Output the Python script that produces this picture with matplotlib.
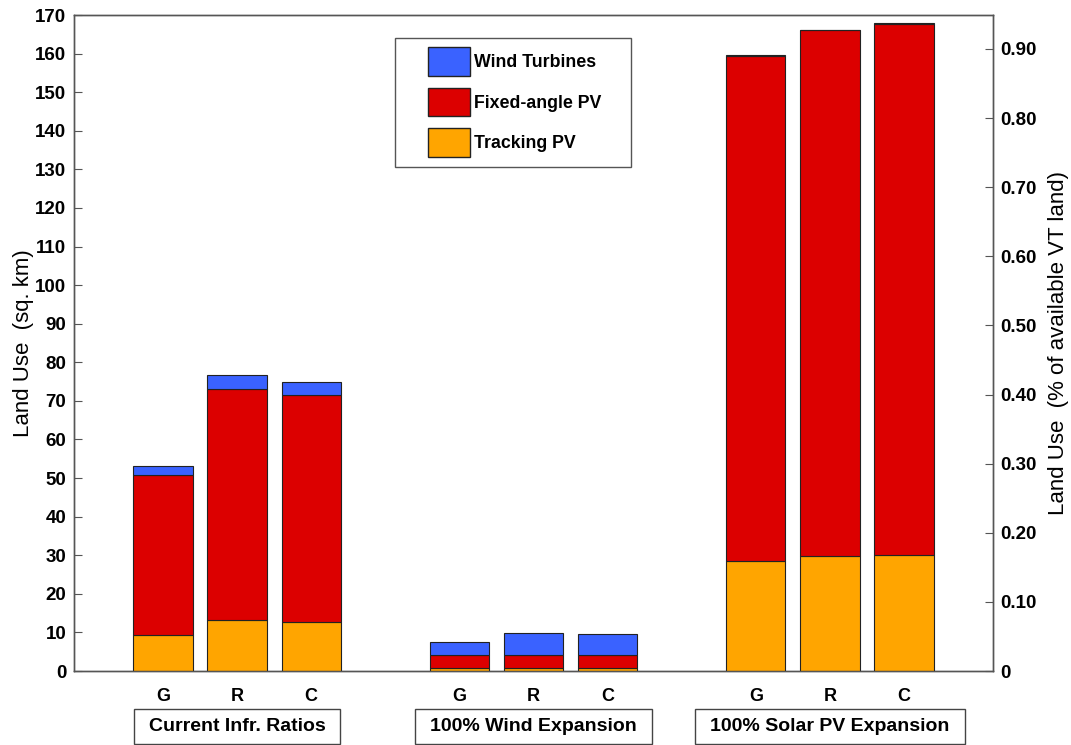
import matplotlib
matplotlib.use("Agg")
import matplotlib.pyplot as plt
from matplotlib.patches import Patch, Rectangle
import numpy as np

# ---- data ----
scenarios = ["Current Infr. Ratios", "100% Wind Expansion", "100% Solar PV Expansion"]
bar_labels = ["G", "R", "C", "G", "R", "C", "G", "R", "C"]
tracking_pv = [9.2, 13.3, 12.8, 0.9, 0.9, 0.9, 28.6, 29.7, 30.0]
fixed_pv = [41.6, 59.8, 58.7, 3.3, 3.3, 3.3, 130.9, 136.3, 137.7]
wind = [2.3, 3.5, 3.3, 3.2, 5.6, 5.3, 0.2, 0.2, 0.2]
pct_per_sqkm = 0.90 / 161.2   # right-axis conversion (% of available VT land per sq. km)
left_ticks = list(range(0, 171, 10))
right_ticks = [0, 0.10, 0.20, 0.30, 0.40, 0.50, 0.60, 0.70, 0.80, 0.90]
right_ticklabels = ["0", "0.10", "0.20", "0.30", "0.40", "0.50", "0.60", "0.70", "0.80", "0.90"]

# ---- style ----
c_wind = "#3a62ff"
c_fixed = "#dc0000"
c_track = "#ffa500"
edge = "#222222"
spine_c = "#555555"
font_main = ["Liberation Sans", "DejaVu Sans"]

plt.rcParams["font.family"] = font_main

W, H = 1071, 745
fig = plt.figure(figsize=(W / 100, H / 100), dpi=100)
ax = fig.add_axes([74 / W, 74 / H, (993 - 74) / W, (671 - 15) / H])

x = np.array([1, 2, 3, 5, 6, 7, 9, 10, 11], dtype=float)
tp = np.array(tracking_pv)
fp = np.array(fixed_pv)
wd = np.array(wind)
w = 0.8
ax.bar(x, tp, w, color=c_track, edgecolor=edge, linewidth=0.8, zorder=3)
ax.bar(x, fp, w, bottom=tp, color=c_fixed, edgecolor=edge, linewidth=0.8, zorder=3)
ax.bar(x, wd, w, bottom=tp + fp, color=c_wind, edgecolor=edge, linewidth=0.8, zorder=3)

ax.set_xlim(-0.2, 12.2)
ax.set_ylim(0, 170)
ax.set_yticks(left_ticks)
ax.set_yticklabels([str(t) for t in left_ticks], fontweight="bold", fontsize=13.5)
ax.set_xticks(x)
ax.set_xticklabels(bar_labels, fontweight="bold", fontsize=13)
ax.tick_params(axis="x", direction="in", length=5, pad=12, color=spine_c)
ax.tick_params(axis="y", direction="in", length=6, pad=5.5, color=spine_c)
for s in ax.spines.values():
    s.set_color(spine_c)
    s.set_linewidth(1.0)
ax.set_ylabel("Land Use  (sq. km)", fontsize=16, labelpad=1)

ax2 = ax.twinx()
ax2.set_ylim(0, 170 * pct_per_sqkm)
ax2.set_yticks(right_ticks)
ax2.set_yticklabels(right_ticklabels, fontweight="bold", fontsize=13.5)
ax2.tick_params(axis="y", direction="in", length=6, pad=5.5, color=spine_c)
for s in ax2.spines.values():
    s.set_color(spine_c)
    s.set_linewidth(1.0)
ax2.set_ylabel("Land Use  (% of available VT land)", fontsize=16, labelpad=8)

# group labels in boxes
trans = matplotlib.transforms.blended_transform_factory(ax.transData, ax.transAxes)
texts = []
for i, name in enumerate(scenarios):
    cx = x[3 * i + 1]
    t = ax.text(cx, -0.085, name, transform=trans, ha="center", va="center",
                fontsize=14, fontweight="bold", clip_on=False)
    texts.append(t)

fig.canvas.draw()
r = fig.canvas.get_renderer()
for t in texts:
    bb = t.get_window_extent(r)
    x0, x1 = bb.x0 - 15, bb.x1 + 15
    yc = (bb.y0 + bb.y1) / 2
    fig.add_artist(Rectangle((x0 / W, (yc - 17.5) / H), (x1 - x0) / W, 35 / H,
                             transform=fig.transFigure, facecolor="none",
                             edgecolor="#444444", linewidth=1, zorder=5))

# legend with manual frame
fig.add_artist(Rectangle((395 / W, (H - 167) / H), (631 - 395) / W, (167 - 38) / H,
                         transform=fig.transFigure, facecolor="white",
                         edgecolor="#555555", linewidth=1, zorder=4))
handles = [Patch(facecolor=c_wind, edgecolor=edge, label="Wind Turbines"),
           Patch(facecolor=c_fixed, edgecolor=edge, label="Fixed-angle PV"),
           Patch(facecolor=c_track, edgecolor=edge, label="Tracking PV")]
leg = fig.legend(handles=handles, loc="upper left", bbox_to_anchor=(428 / W, (H - 47) / H),
                 frameon=False, prop=dict(weight="bold", size=12.8),
                 handlelength=2.36, handleheight=2.1, labelspacing=0.68,
                 borderpad=0, borderaxespad=0, handletextpad=0.25)
leg.set_zorder(6)

fig.savefig("out.png", dpi=100)
